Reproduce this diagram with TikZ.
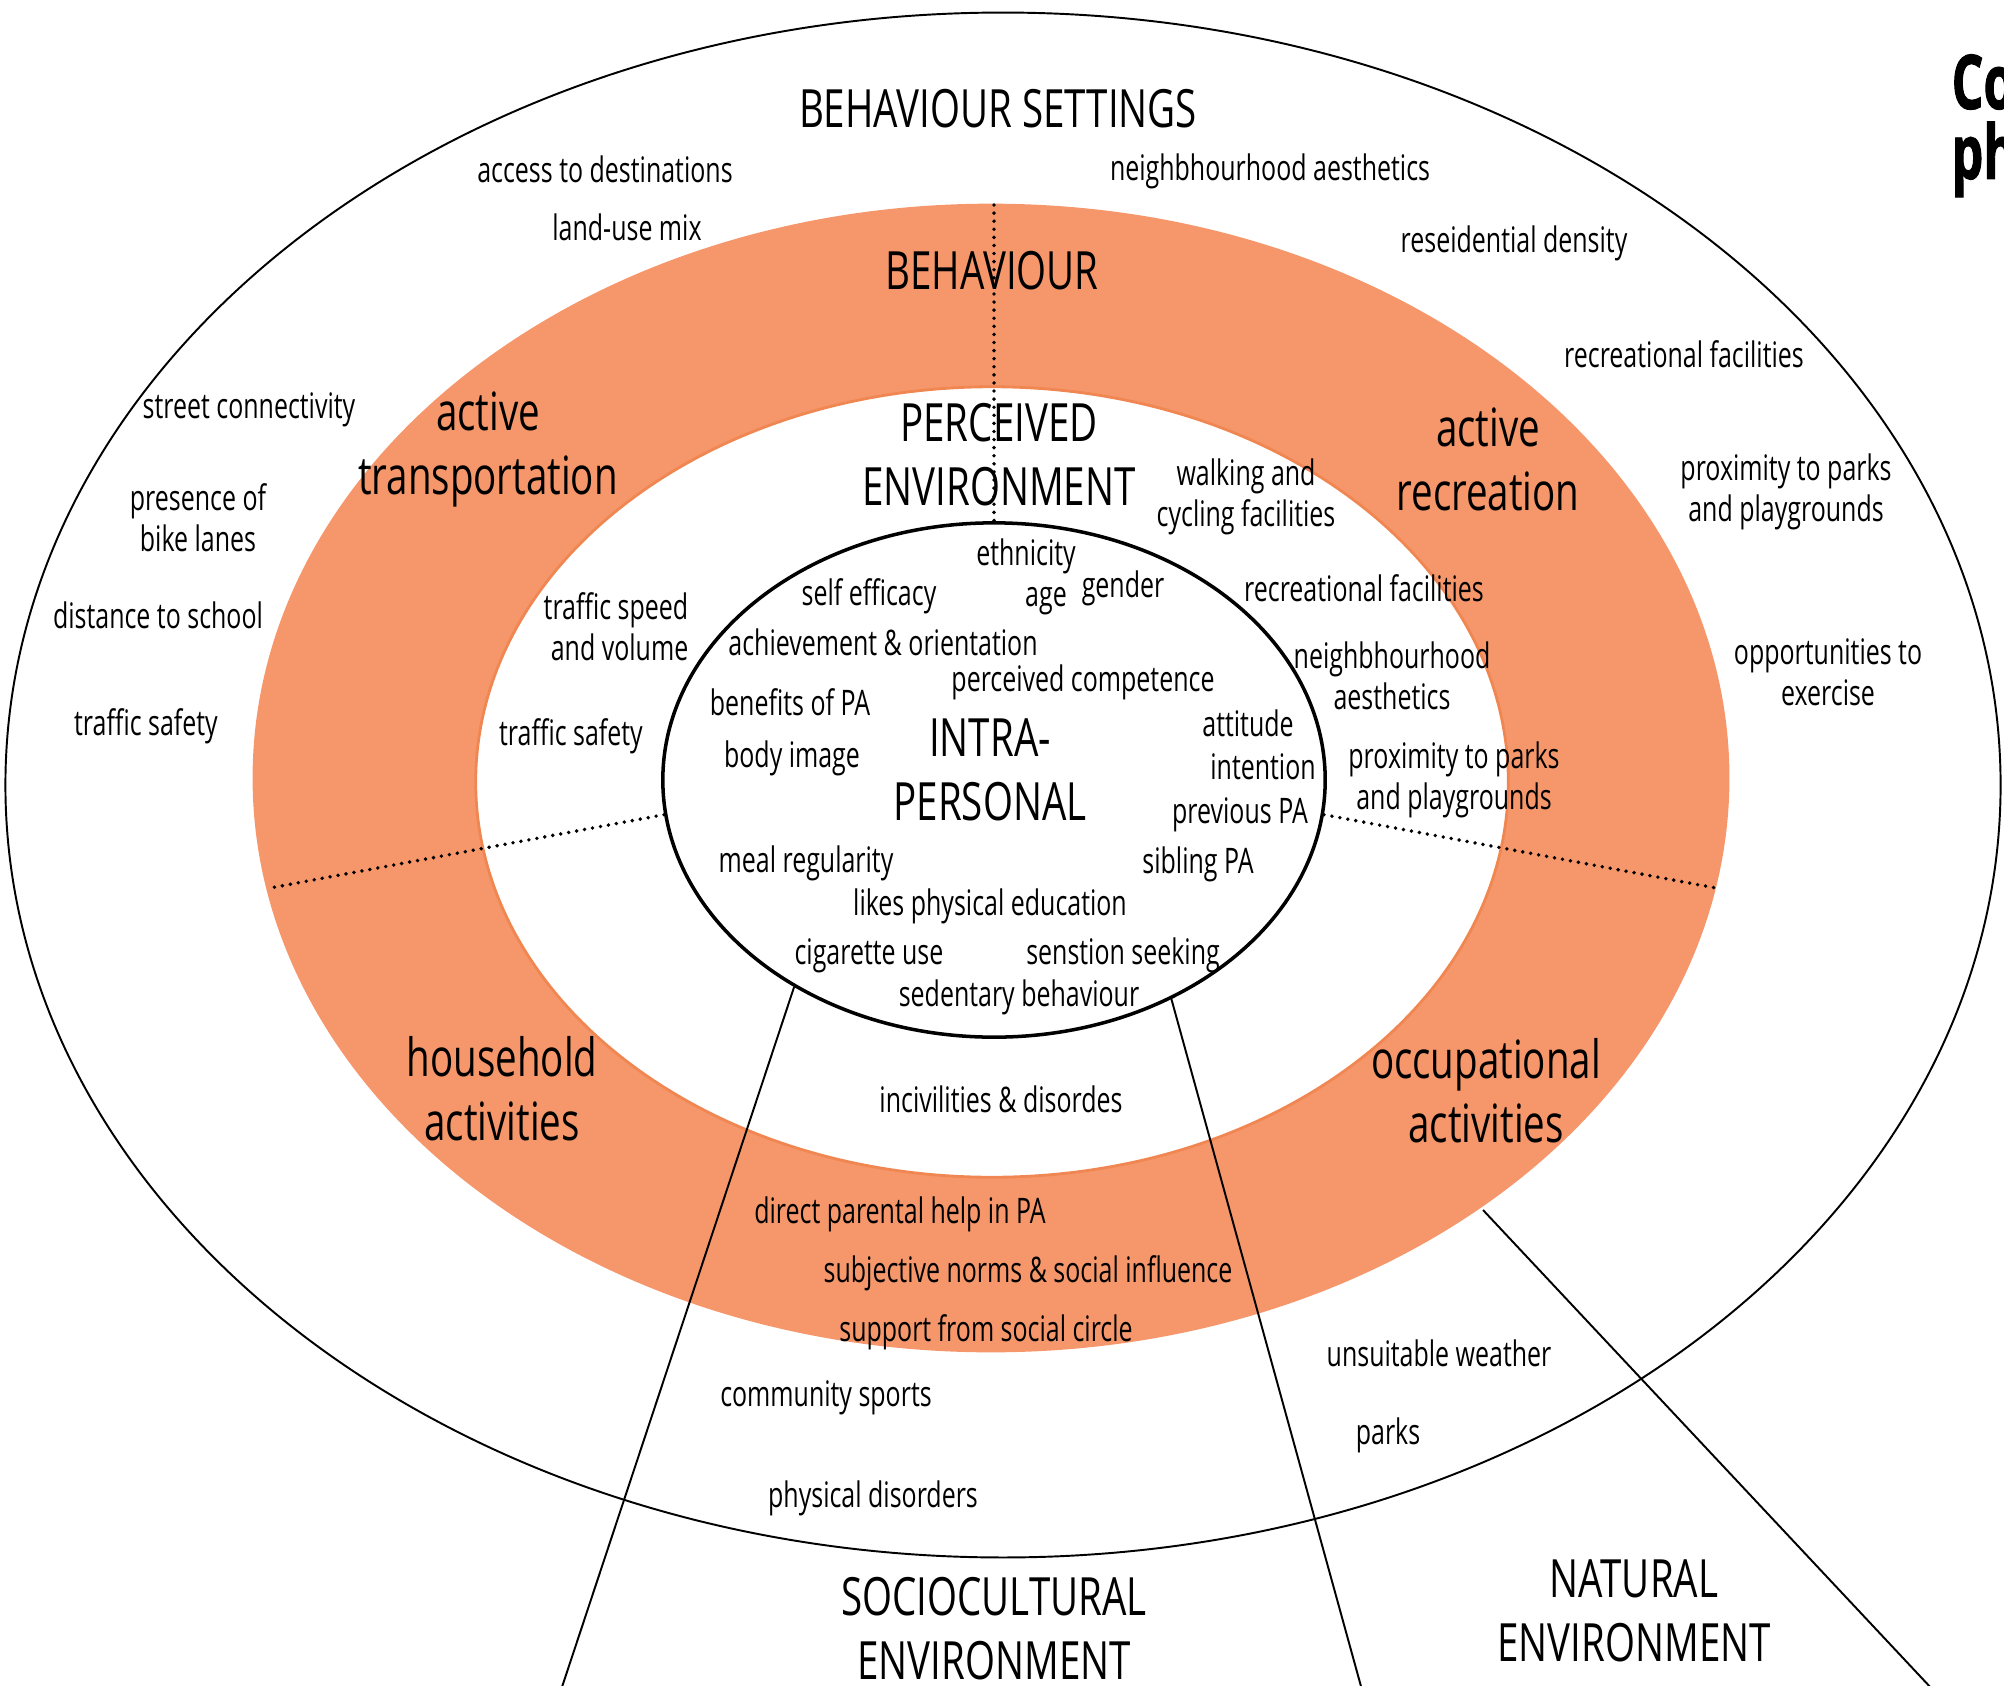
\documentclass[tikz,border=0pt]{standalone}
\usepackage{fontspec}
\setmainfont{Open Sans}[FakeStretch=0.71]
\newfontfamily\spherefont{Open Sans}[FakeStretch=0.73]
\newfontfamily\titlefont{Open Sans}[FakeStretch=0.66, FakeBold=1.2]
\usepackage{xcolor}
\usetikzlibrary{shapes.geometric}

\definecolor{ringorange}{HTML}{F5976B}
\definecolor{ringedge}{HTML}{F08752}

\begin{document}
\begin{tikzpicture}[x=0.01cm, y=-0.01cm,
    factor/.style={font=\fontsize{10}{11.7}\selectfont, align=center, inner sep=0pt},
    sphere/.style={font=\spherefont\fontsize{15}{18.2}\selectfont, align=center, inner sep=0pt},
    divider/.style={line width=1.1pt, dash pattern=on 0pt off 2.3pt, line cap=round},
    boundary/.style={line width=0.55pt}]

    \useasboundingbox (0,0) rectangle (2004,1685);

    % Outer ellipse
    \draw[boundary] (1003,785) ellipse [x radius=9.97cm, y radius=7.72cm];

    % Behaviour ring
    \fill[ringorange, even odd rule] (991,778) ellipse [x radius=7.38cm, y radius=5.74cm]
        (992,782) ellipse [x radius=5.16cm, y radius=3.95cm];
    \draw[ringedge, line width=0.8pt] (992,782) ellipse [x radius=5.16cm, y radius=3.95cm];

    % Intra-personal ellipse
    \node[draw, ellipse, line width=1pt, minimum width=6.62cm, minimum height=5.14cm, inner sep=0pt] (intra) at (994,780) {};

    % Dotted dividers
    \coordinate (ringtop) at (994,205);
    \coordinate (ringW) at (270,888);
    \coordinate (ringE) at (1716,888);
    \draw[divider] (ringtop) -- (intra.north);
    \draw[divider] (intra.186) -- (ringW);
    \draw[divider] (intra.354) -- (ringE);

    % Environment borders
    \coordinate (socioW) at (561,1690);
    \coordinate (socioE) at (1362,1690);
    \coordinate (ringSE) at (1483,1210);
    \coordinate (naturalE) at (1933,1690);
    \draw[boundary] (intra.226.5) -- (socioW);
    \draw[boundary] (intra.309.3) -- (socioE);
    \draw[boundary] (ringSE) -- (naturalE);

    % Title
    \node[anchor=base west, inner sep=0pt, font=\titlefont\bfseries\fontsize{21.5}{21.5}\selectfont] (title1) at (1951,109) {Co};
    \node[anchor=base west, inner sep=0pt, font=\titlefont\bfseries\fontsize{21.5}{21.5}\selectfont] (title2) at (1951,179) {ph};

    % Behaviour settings
    \node[sphere] (settings) at (998,109) {BEHAVIOUR SETTINGS};
    \node[factor] (access) at (605,169) {access to destinations};
    \node[factor] (landuse) at (627,227) {land-use mix};
    \node[factor] (aesthO) at (1270,171) {neighbhourhood aesthetics};
    \node[factor] (density) at (1514,243) {reseidential density};
    \node[factor] (recfacO) at (1684,354) {recreational facilities};
    \node[factor] (parksO) at (1786,492) {proximity to parks\\and playgrounds};
    \node[factor] (opport) at (1828,672) {opportunities to\\exercise};
    \node[factor] (street) at (249,410) {street connectivity};
    \node[factor] (bike) at (198,518) {presence of\\bike lanes};
    \node[factor] (school) at (158,615) {distance to school};
    \node[factor] (safetyO) at (146,726) {traffic safety};

    % Behaviour
    \node[sphere] (behav) at (992,271) {BEHAVIOUR};
    \node[sphere] (transp) at (488,449) {active\\transportation};
    \node[sphere] (recr) at (1488,459) {active\\recreation};
    \node[sphere] (house) at (502,1089) {household\\activities};
    \node[sphere] (occup) at (1486,1091) {occupational\\activities};
    \node[factor] (parental) at (900,1214) {direct parental help in PA};
    \node[factor] (norms) at (1028,1273) {subjective norms \& social influence};
    \node[factor] (support) at (986,1332) {support from social circle};

    % Perceived environment
    \node[sphere] (perceived) at (999,455) {PERCEIVED\\ENVIRONMENT};
    \node[factor] (walking) at (1246,497) {walking and\\cycling facilities};
    \node[factor, align=right, anchor=east] (speed) at (689,627) {traffic speed\\and volume};
    \node[factor] (safetyP) at (571,736) {traffic safety};
    \node[factor] (recfacP) at (1364,588) {recreational facilities};
    \node[factor] (aesthP) at (1392,676) {neighbhourhood\\aesthetics};
    \node[factor] (parksP) at (1454,780) {proximity to parks\\and playgrounds};
    \node[factor] (incivil) at (1001,1099) {incivilities \& disordes};

    % Intra-personal
    \node[sphere] (intralabel) at (990,770) {INTRA-\\PERSONAL};
    \node[factor] (ethnic) at (1026,556) {ethnicity};
    \node[factor] (efficacy) at (869,596) {self efficacy};
    \node[factor] (age) at (1046,601) {age};
    \node[factor] (gender) at (1123,588) {gender};
    \node[factor] (achieve) at (883,642) {achievement \& orientation};
    \node[factor] (compet) at (1083,682) {perceived competence};
    \node[factor] (benefits) at (790,702) {benefits of PA};
    \node[factor] (body) at (792,758) {body image};
    \node[factor] (attitude) at (1248,723) {attitude};
    \node[factor] (intention) at (1263,767) {intention};
    \node[factor] (previous) at (1240,815) {previous PA};
    \node[factor] (meal) at (806,863) {meal regularity};
    \node[factor] (sibling) at (1198,864) {sibling PA};
    \node[factor] (likes) at (990,906) {likes physical education};
    \node[factor] (cigarette) at (869,956) {cigarette use};
    \node[factor] (sensation) at (1123,955) {senstion seeking};
    \node[factor] (sedentary) at (1019,997) {sedentary behaviour};

    % Sociocultural and natural environment
    \node[factor] (weather) at (1439,1353) {unsuitable weather};
    \node[factor] (community) at (826,1398) {community sports};
    \node[factor] (parks) at (1388,1435) {parks};
    \node[factor] (disorders) at (873,1498) {physical disorders};
    \node[sphere] (socio) at (994,1629) {SOCIOCULTURAL\\ENVIRONMENT};
    \node[sphere] (natural) at (1634,1611) {NATURAL\\ENVIRONMENT};

\end{tikzpicture}
\end{document}
